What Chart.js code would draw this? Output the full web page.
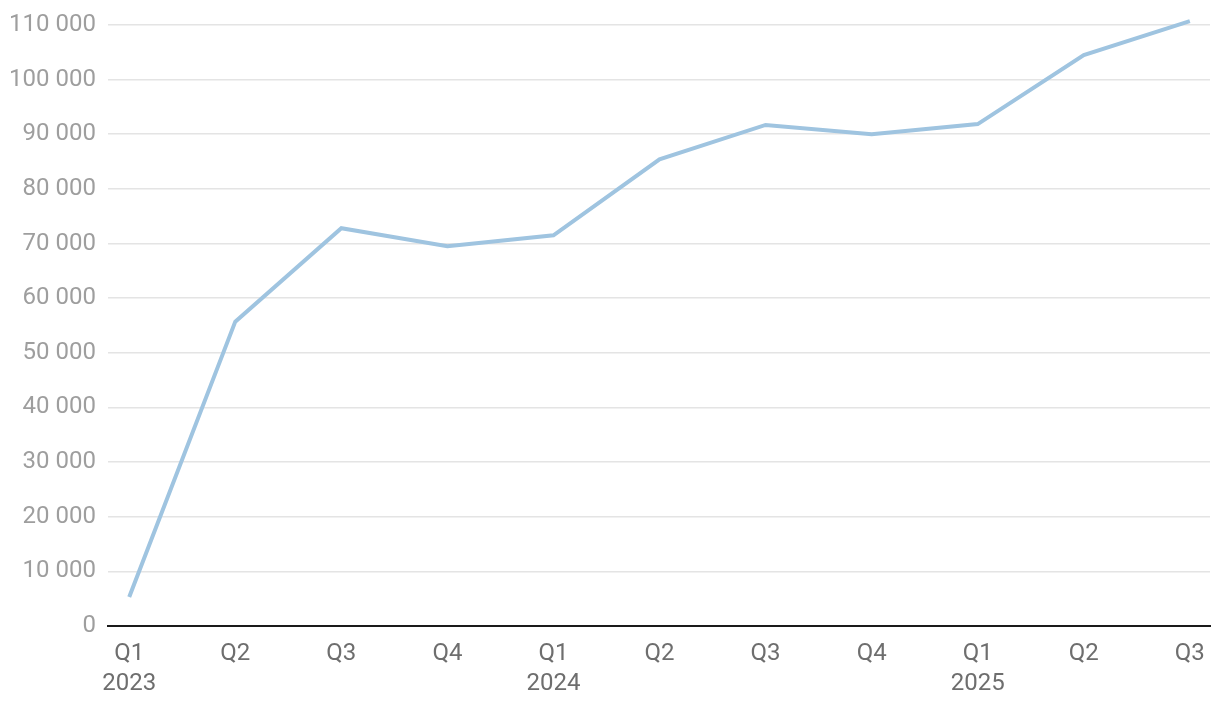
<!DOCTYPE html>
<html>
<head>
<meta charset="utf-8">
<script src="https://cdn.jsdelivr.net/npm/chart.js@4"></script>
<style>
  html, body { margin: 0; padding: 0; background: #fff; }
  #wrap { width: 1220px; height: 706px; }
</style>
</head>
<body>
<div id="wrap"><canvas id="myChart" width="1220" height="706"></canvas></div>
<script>
/* DATA */
const quarters = ["Q1", "Q2", "Q3", "Q4", "Q1", "Q2", "Q3", "Q4", "Q1", "Q2", "Q3"]
const years = ["2023", "", "", "", "2024", "", "", "", "2025", "", ""]
const values = [5300, 55700, 72800, 69500, 71500, 85400, 91700, 90000, 91850, 104500, 110700]
const yTicks = [0, 10000, 20000, 30000, 40000, 50000, 60000, 70000, 80000, 90000, 100000, 110000]

/* HELPERS */
function formatNumber (n) {
    return String(n).replace(/\B(?=(\d{3})+(?!\d))/g, " ")
}

const points = values.map((v, i) => ({ x: i, y: v }))

const config = {
    type: "line",
    data: {
        datasets: [
            {
                data: points,
                borderColor: "#9fc4e0",
                borderWidth: 4,
                pointRadius: 0,
                tension: 0,
                fill: false
            }
        ]
    },
    options: {
        responsive: false,
        animation: false,
        layout: { padding: { top: 14, right: 10, bottom: 8, left: 9 } },
        plugins: { legend: { display: false }, tooltip: { enabled: false } },
        scales: {
            x: {
                type: "linear",
                min: -0.2,
                max: 10.19,
                afterBuildTicks: (scale) => {
                    scale.ticks = quarters.map((q, i) => ({ value: i }))
                },
                afterFit: (scale) => {
                    scale.height = 72
                    scale.paddingLeft = 0
                    scale.paddingRight = 0
                },
                grid: { display: false, drawTicks: false },
                border: { display: true, color: "#1a1a1a", width: 2 },
                ticks: {
                    autoSkip: false,
                    maxRotation: 0,
                    padding: 13,
                    color: "#6e6e6e",
                    font: { family: "Roboto", size: 24, lineHeight: 1.25 },
                    callback: (value) => years[value] ? [quarters[value], years[value]] : quarters[value]
                }
            },
            y: {
                min: 0,
                max: 112000,
                afterBuildTicks: (scale) => {
                    scale.ticks = yTicks.map((v) => ({ value: v }))
                },
                afterFit: (scale) => {
                    scale.width = 99
                    scale.paddingTop = 0
                    scale.paddingBottom = 0
                },
                grid: { color: "#e4e4e4", lineWidth: 1.5, drawTicks: false },
                border: { display: false },
                ticks: {
                    padding: 12,
                    color: "#9e9e9e",
                    font: { family: "Roboto", size: 24 },
                    callback: (value) => formatNumber(value)
                }
            }
        }
    }
}

new Chart(document.querySelector("#myChart"), config)
</script>
</body>
</html>
